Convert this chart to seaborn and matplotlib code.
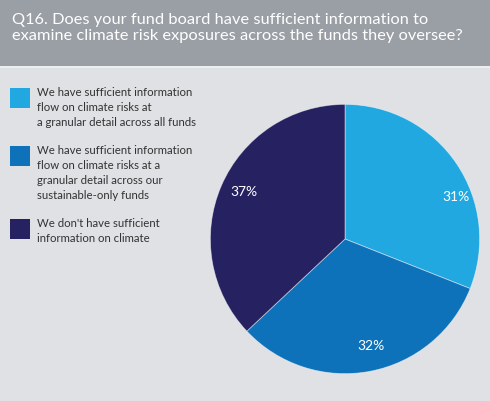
import numpy as np
import pandas as pd
import seaborn as sb
import matplotlib.pyplot as plt
from matplotlib.patches import Rectangle

sb.set_theme(style="white")
plt.rcParams['font.family'] = ['Lato', 'DejaVu Sans']

title = ("Q16. Does your fund board have sufficient information to\n"
         "examine climate risk exposures across the funds they oversee?")
labels = ["We have sufficient information\nflow on climate risks at\na granular detail across all funds",
          "We have sufficient information\nflow on climate risks at a\ngranular detail across our\nsustainable-only funds",
          "We don't have sufficient\ninformation on climate"]
shares = [31, 32, 37]
colours = sb.color_palette(["#22a8e0", "#0e72ba", "#262160"])

bg = "#e0e1e4"
fig = plt.figure(figsize=(4.9, 4.01), dpi=100, facecolor=bg)

# header band
fig.patches.append(Rectangle((0, 335 / 401), 1, 66 / 401, transform=fig.transFigure,
                             facecolor="#9a9ea5", edgecolor="none", zorder=0))
fig.patches.append(Rectangle((0, 333 / 401), 1, 2 / 401, transform=fig.transFigure,
                             facecolor="#eceef0", edgecolor="none", zorder=0))
fig.text(12 / 490, 1 - 13 / 401, title, color="white", fontsize=11.8,
         va="top", ha="left", linespacing=1.15)

# pie
ax = fig.add_axes([209 / 490, 26 / 401, 272 / 490, 272 / 401])
wedges, texts, autotexts = ax.pie(
    shares, colors=colours, startangle=90, counterclock=False,
    autopct=lambda p: f"{p:.0f}%", pctdistance=0.84,
    wedgeprops=dict(linewidth=0.6, edgecolor=(1, 1, 1, 0.5)),
    textprops=dict(color="white", fontsize=10))
# label placement as in the original layout (angle in degrees, radius)
for t, (ang, rad) in zip(autotexts, [(20.6, 0.88), (-76.6, 0.82), (155, 0.83)]):
    t.set_position((rad * np.cos(np.radians(ang)), rad * np.sin(np.radians(ang))))
ax.set_xlim(-1.01, 1.01)
ax.set_ylim(-1.01, 1.01)
ax.set_aspect("equal")
ax.axis("off")

# legend
tops = [88, 146, 219]
for top, lab, col in zip(tops, labels, colours):
    fig.patches.append(Rectangle((10 / 490, 1 - (top + 20) / 401), 20 / 490, 20 / 401,
                                 transform=fig.transFigure, facecolor=col, edgecolor="none"))
    fig.text(37 / 490, 1 - (top - 1) / 401, lab, color="#333333", fontsize=8.2,
             va="top", ha="left", linespacing=1.45)

fig.savefig("out.png", dpi=100, facecolor=bg)
